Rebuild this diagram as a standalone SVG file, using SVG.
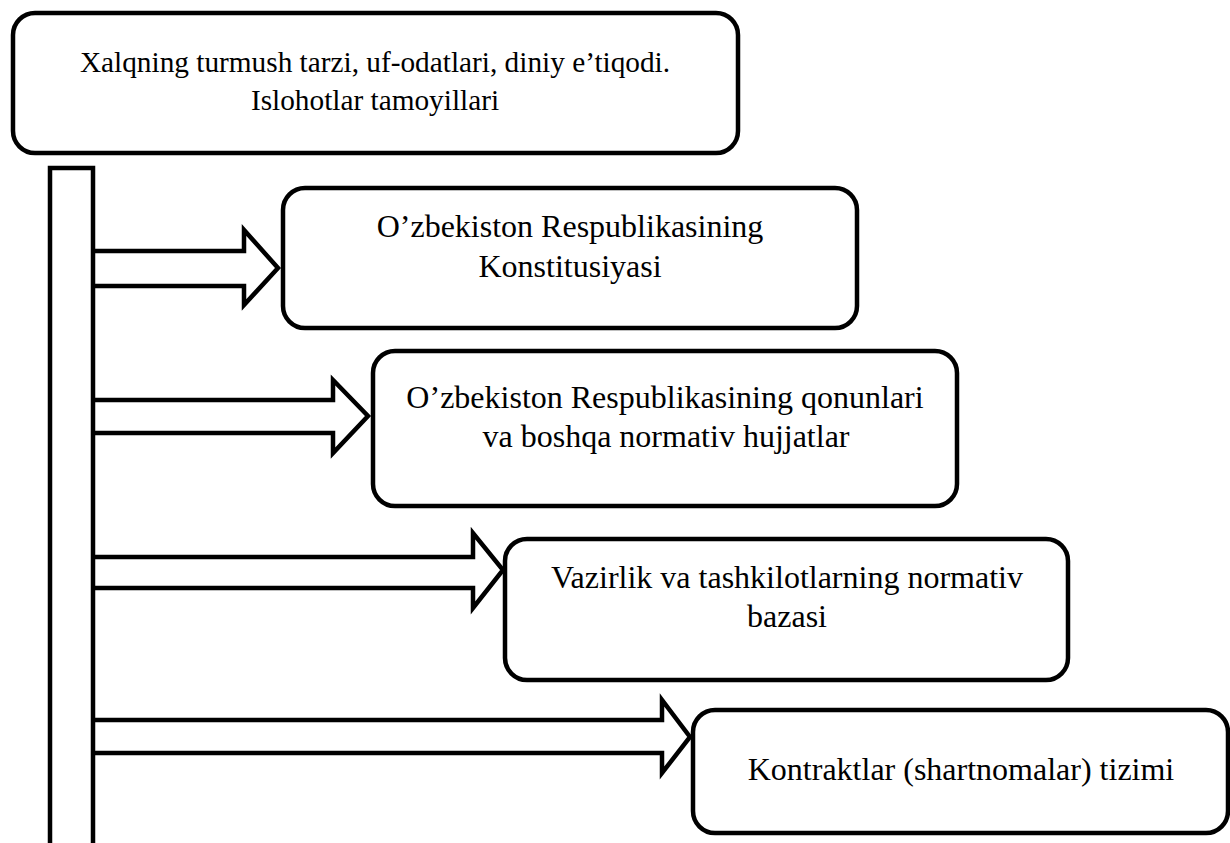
<svg xmlns="http://www.w3.org/2000/svg" width="1230" height="843" viewBox="0 0 1230 843">
<style>
.box{fill:#fff;stroke:#000;stroke-width:4.5}
.conn{fill:#fff;stroke:#000;stroke-width:4.5;stroke-linejoin:miter;stroke-miterlimit:10}
text{font-family:"Liberation Serif","Times New Roman",serif;fill:#000;text-anchor:middle}
.t1{font-size:29.3px}
.t2{font-size:32px}
</style>
<rect x="0" y="0" width="1230" height="843" fill="#fff"/>
<g id="connectors">
<path class="conn" d="M93,251 H244 V230 L278,268 L244,305 V286 H93"/>
<path class="conn" d="M93,400 H333 V380 L368,416 L333,453 V433 H93"/>
<path class="conn" d="M93,557 H473 V533 L503,570 L473,608 V588 H93"/>
<path class="conn" d="M93,720 H662 V700 L690,737 L662,773 V753 H93"/>
<path class="conn" fill="none" d="M50,850 V168 H93 V850"/>
</g>
<g id="node-top">
<rect class="box" x="13" y="13" width="725" height="140" rx="22"/>
<text class="t1" x="375" y="72">Xalqning turmush tarzi, uf-odatlari, diniy e’tiqodi.</text>
<text class="t1" x="375" y="110">Islohotlar tamoyillari</text>
</g>
<g id="node-konstitutsiya">
<rect class="box" x="283" y="188" width="574" height="140" rx="22"/>
<text class="t2" x="570" y="237">O’zbekiston Respublikasining</text>
<text class="t2" x="570" y="277">Konstitusiyasi</text>
</g>
<g id="node-qonunlar">
<rect class="box" x="373" y="351" width="584" height="155" rx="22"/>
<text class="t2" x="665" y="408">O’zbekiston Respublikasining qonunlari</text>
<text class="t2" x="666" y="447">va boshqa normativ hujjatlar</text>
</g>
<g id="node-vazirlik">
<rect class="box" x="505" y="539" width="563" height="141" rx="22"/>
<text class="t2" x="787" y="588">Vazirlik va tashkilotlarning normativ</text>
<text class="t2" x="787" y="627">bazasi</text>
</g>
<g id="node-kontrakt">
<rect class="box" x="693" y="710" width="535" height="123" rx="22"/>
<text class="t2" x="961" y="780">Kontraktlar (shartnomalar) tizimi</text>
</g>
</svg>
